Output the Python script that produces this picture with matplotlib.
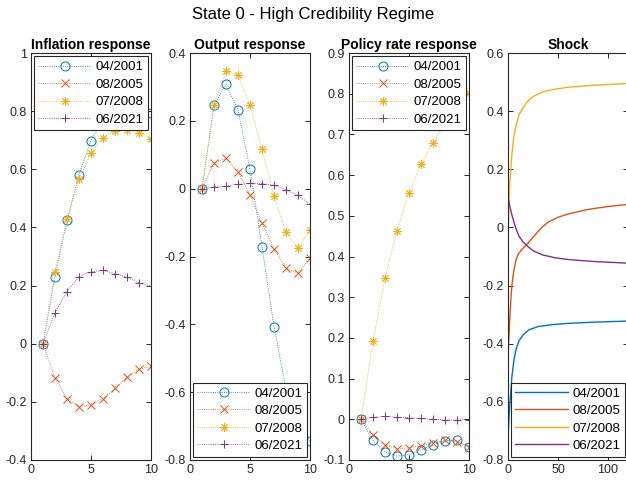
import numpy as np
import matplotlib
matplotlib.use("Agg")
import matplotlib.pyplot as plt
from matplotlib.ticker import FuncFormatter

plt.rcParams['font.family'] = ['Liberation Sans', 'DejaVu Sans']
plt.rcParams['axes.unicode_minus'] = False

dates = ['04/2001', '08/2005', '07/2008', '06/2021']
colors = ['#0072BD', '#D95319', '#EDB120', '#7E2F8E']
markers = ['o', 'x', (8, 2, 0), '+']

horizon = np.arange(1, 11)

# impulse responses, one row per episode
infl = [
    [0, 0.231, 0.424, 0.582, 0.699, 0.77, 0.80, 0.81, 0.81, 0.795],
    [0, -0.118, -0.189, -0.216, -0.211, -0.189, -0.154, -0.115, -0.087, -0.078],
    [0, 0.248, 0.428, 0.567, 0.657, 0.709, 0.733, 0.736, 0.724, 0.703],
    [0, 0.106, 0.179, 0.231, 0.247, 0.252, 0.241, 0.229, 0.209, 0.198],
]
output = [
    [0, 0.246, 0.308, 0.232, 0.057, -0.171, -0.407, -0.59, -0.69, -0.745],
    [0, 0.077, 0.089, 0.049, -0.018, -0.102, -0.178, -0.234, -0.249, -0.204],
    [0, 0.246, 0.346, 0.336, 0.246, 0.116, -0.021, -0.129, -0.175, -0.121],
    [0, 0.005, 0.008, 0.013, 0.016, 0.015, 0.010, -0.003, -0.020, -0.046],
]
policy = [
    [0, -0.052, -0.080, -0.090, -0.087, -0.075, -0.063, -0.053, -0.052, -0.068],
    [0, -0.038, -0.063, -0.072, -0.070, -0.065, -0.058, -0.052, -0.055, -0.068],
    [0, 0.192, 0.346, 0.463, 0.556, 0.628, 0.679, 0.727, 0.77, 0.802],
    [0, 0.005, 0.007, 0.005, 0.004, 0.002, 0.0, -0.002, -0.002, -0.001],
]

# shock paths
shock_t = [
    [0, 1, 2, 3, 4, 6, 8, 11, 15, 21, 30, 45, 60, 85, 120],
    [0, 1, 2, 3, 4, 6, 8, 10, 14, 20, 26, 33, 40, 50, 60, 80, 100, 120],
    [0, 1, 2, 3, 4, 6, 8, 11, 15, 20, 25, 35, 48, 60, 85, 120],
    [0, 1, 2, 3, 4, 6, 8, 11, 15, 20, 25, 35, 48, 62, 85, 120],
]
shock_v = [
    [-0.725, -0.655, -0.6, -0.555, -0.51, -0.455, -0.42, -0.39, -0.37, -0.352,
     -0.341, -0.334, -0.33, -0.326, -0.322],
    [-0.455, -0.37, -0.3, -0.24, -0.195, -0.145, -0.112, -0.093, -0.075, -0.054,
     -0.03, -0.003, 0.018, 0.035, 0.046, 0.062, 0.072, 0.079],
    [-0.035, 0.09, 0.16, 0.21, 0.255, 0.315, 0.35, 0.387, 0.412, 0.435, 0.45,
     0.467, 0.476, 0.482, 0.489, 0.495],
    [0.102, 0.085, 0.07, 0.055, 0.042, 0.018, -0.005, -0.03, -0.05, -0.066,
     -0.08, -0.095, -0.105, -0.111, -0.117, -0.123],
]

fig = plt.figure(figsize=(6.26, 4.82), dpi=100)
fig.suptitle('State 0 - High Credibility Regime', fontsize=12, y=0.985)

W, H = 626, 482
lefts = [31, 190, 349, 508]
axes = [fig.add_axes([l / W, 22 / H, 120 / W, 407 / H]) for l in lefts]


def tick_label(v, pos):
    if abs(v) < 1e-9:
        return '0'
    return '%g' % round(v, 6)


fmt = FuncFormatter(tick_label)


def style(ax, title, ylim, yticks, xlim, xticks):
    ax.set_title(title, fontsize=10, fontweight='bold', pad=3)
    ax.set_xlim(xlim)
    ax.set_ylim(ylim)
    ax.set_xticks(xticks)
    ax.set_yticks(yticks)
    ax.yaxis.set_major_formatter(fmt)
    ax.xaxis.set_major_formatter(fmt)
    ax.tick_params(direction='in', length=3.5, width=0.7, labelsize=9,
                   colors='#262626', top=True, right=True, pad=3)
    for s in ax.spines.values():
        s.set_color('#262626')
        s.set_linewidth(0.8)


def legend(ax, loc):
    leg = ax.legend(loc=loc, fontsize=9.5, fancybox=False, framealpha=1,
                    edgecolor='#262626', handlelength=4.0, handletextpad=0.3,
                    labelspacing=0.4, borderpad=0.35, borderaxespad=0.25)
    leg.get_frame().set_linewidth(0.8)
    leg.set_zorder(5)


panels = [
    (axes[0], infl, 'Inflation response', (-0.4, 1), np.arange(-0.4, 1.01, 0.2), 'upper right'),
    (axes[1], output, 'Output response', (-0.8, 0.4), np.arange(-0.8, 0.41, 0.2), 'lower right'),
    (axes[2], policy, 'Policy rate response', (-0.1, 0.9), np.arange(-0.1, 0.91, 0.1), 'upper right'),
]

for ax, data, title, ylim, yt, loc in panels:
    for vals, c, m, lab in zip(data, colors, markers, dates):
        ax.plot(horizon, vals, linestyle=':', linewidth=0.6, color=c, marker=m,
                markersize=6.5 if m == 'o' else 6, markerfacecolor='none',
                markeredgewidth=0.7, label=lab)
    style(ax, title, ylim, yt, (0, 10), [0, 5, 10])
    legend(ax, loc)

ax = axes[3]
for t, v, c, lab in zip(shock_t, shock_v, colors, dates):
    ax.plot(t, v, color=c, linewidth=1.0, label=lab)
style(ax, 'Shock', (-0.8, 0.6), np.arange(-0.8, 0.61, 0.2), (0, 120), [0, 50, 100])
legend(ax, 'lower right')

fig.savefig('out.png', dpi=100)
